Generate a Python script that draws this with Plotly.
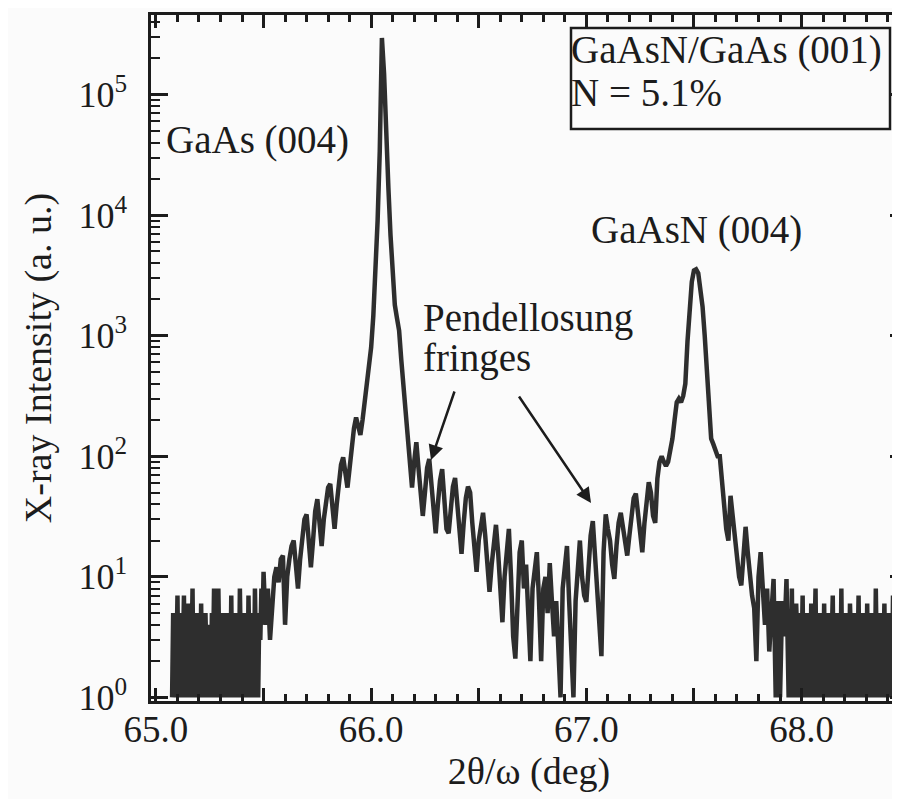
import numpy as np
import plotly.graph_objects as go

# ---------------- data (2theta/omega scan, counts) ----------------
# each segment: start angle (deg), scan step (deg), counts

floor_left_start, floor_left_step = 65.075, 0.005
floor_left_counts = [1, 5, 1, 4, 2, 7, 1, 4, 1, 5,
                     2, 7, 1, 4, 1, 6, 1, 4, 2, 8,
                     1, 4, 1, 5, 2, 4, 1, 6, 1, 4,
                     1, 5, 2, 4, 1, 4, 1, 5, 2, 8,
                     1, 5, 1, 8, 2, 4, 1, 5, 1, 4,
                     1, 5, 2, 4, 1, 7, 1, 4, 2, 5,
                     1, 4, 1, 8, 2, 4, 1, 5, 1, 4,
                     1, 7, 2, 4, 1, 5, 1, 8, 2, 4,
                     1, 5, 3, 8, 4]

gaas_start, gaas_step = 65.50, 0.01
gaas_counts = [11, 4, 8, 3, 6, 10, 12, 9, 14, 15,
               4, 10, 14, 18, 20, 11, 8, 14, 22, 30,
               33, 20, 12, 20, 35, 44, 30, 18, 30, 45,
               55, 59, 40, 25, 40, 65, 85, 98, 70, 55,
               80, 120, 170, 210, 170, 150, 200, 280, 360, 500,
               800, 1450, 3500, 9000, 34000, 295000, 150000, 63000, 17000, 6800,
               3300, 1800, 1400, 1100, 630, 380, 235, 135, 80, 55,
               90, 131, 80, 45, 32, 50, 80, 95, 56, 32,
               23, 40, 63, 78, 45, 25, 23, 35, 56, 66,
               40, 20, 15.5, 28, 45, 56, 50, 28]

fringes_start, fringes_step = 66.48, 0.01
fringes_counts = [16, 11, 20, 28, 34, 22, 12.6, 7.5, 12.6, 20,
                  27, 16, 8, 4.2, 10, 18, 25, 10, 3.2, 2.1,
                  8, 16, 20, 8, 12.6, 4, 2, 8, 12.6, 16,
                  6.3, 2, 8, 10, 5, 13, 6.3, 3.2, 6.3, 2,
                  1, 8, 12.6, 18, 6.3, 2.5, 1, 6.3, 12.6, 20,
                  10, 7, 6.2, 12.6, 22, 29, 16, 8, 4, 2.2,
                  16, 33]

gaasn_start, gaasn_step = 67.10, 0.01
gaasn_counts = [25, 20, 12.6, 9.6, 18, 28, 34, 25, 18, 15,
                22, 35, 45, 49, 32, 20, 16, 28, 45, 61,
                50, 32, 28, 65, 90, 100, 90, 83, 90, 112,
                140, 200, 280, 300, 280, 316, 400, 900, 1800, 2800,
                3470, 3550, 3300, 2500, 1740, 1000, 500, 250, 140, 126,
                112, 100, 100, 56, 40, 25, 20, 47, 32, 20,
                12.6, 10, 8.5, 16, 26, 16, 10, 7, 5.5, 2,
                10, 16, 8, 4, 8, 2.4, 5, 9.6, 1, 6.3,
                1, 6.3, 3.2, 9.6]

floor_right_start, floor_right_step = 67.94, 0.005
floor_right_counts = [1, 5, 2, 8, 1, 4, 1, 6, 3, 5,
                      1, 4, 2, 7, 1, 4, 1, 5, 2, 4,
                      1, 6, 1, 4, 3, 8, 1, 4, 1, 5,
                      2, 4, 1, 6, 1, 4, 2, 5, 1, 4,
                      3, 7, 1, 4, 1, 5, 2, 4, 1, 8,
                      1, 4, 2, 5, 1, 4, 1, 6, 3, 4,
                      1, 5, 1, 4, 2, 7, 1, 4, 1, 5,
                      2, 4, 1, 6, 1, 4, 3, 5, 1, 4,
                      1, 8, 2, 4, 1, 5, 1, 4, 2, 6,
                      1, 4, 1, 5, 3, 4, 1, 7, 1, 4,
                      2, 5, 1, 4, 1, 6, 2, 4, 1, 5, 3]

segments = [(floor_left_start, floor_left_step, floor_left_counts),
            (gaas_start, gaas_step, gaas_counts),
            (fringes_start, fringes_step, fringes_counts),
            (gaasn_start, gaasn_step, gaasn_counts),
            (floor_right_start, floor_right_step, floor_right_counts)]

x_label_vals = [65.0, 66.0, 67.0, 68.0]
x_label_text = ["65.0", "66.0", "67.0", "68.0"]
x_half_vals = [65.5, 66.5, 67.5]
y_decades = [1, 10, 100, 1000, 10000, 100000]
y_decade_text = ["10<sup>0</sup>", "10<sup>1</sup>", "10<sup>2</sup>",
                 "10<sup>3</sup>", "10<sup>4</sup>", "10<sup>5</sup>"]
y_minor_digits = [2, 3, 4, 5, 6, 7, 8, 9]

# ---------------- build ----------------
x = np.concatenate([np.round(s + st * np.arange(len(v)), 4) for s, st, v in segments])
y = np.concatenate([np.asarray(v, dtype=float) for s, st, v in segments])

INK = "#1c1c1c"
FONT = "'Liberation Serif', 'Times New Roman', serif"
BG = "#fbfbfb"
XRANGE = [64.977, 68.49]
YRANGE = [-0.03, 5.66]

y_minor_vals = [m * d for d in y_decades for m in y_minor_digits if m * d < 10 ** YRANGE[1]]

fig = go.Figure(go.Scatter(x=x, y=y, mode="lines",
                           line=dict(color="#2e2e2e", width=4.5),
                           hoverinfo="skip"))
fig.add_trace(go.Scatter(x=[None], y=[None], xaxis="x2", yaxis="y2",
                         showlegend=False, hoverinfo="skip"))

L, R, T, B = 143, 1, 7, 106
W, H = 900, 799
pw, ph = W - L - R, H - T - B


def px(xp):
    return (xp - L) / pw


def py(yp):
    return (H - B - yp) / ph


fig.update_layout(
    width=W, height=H,
    margin=dict(l=L, r=R, t=T, b=B, autoexpand=False),
    paper_bgcolor=BG, plot_bgcolor=BG,
    showlegend=False,
    font=dict(family=FONT, size=36, color=INK),
)

fig.update_layout(
    xaxis=dict(
        range=XRANGE, automargin=False,
        tickvals=x_label_vals, ticktext=x_label_text,
        ticks="inside", ticklen=13, tickwidth=2.5, tickcolor=INK,
        showline=True, linewidth=2.5, linecolor=INK, mirror="ticks",
        showgrid=False, zeroline=False,
        minor=dict(dtick=0.1, tick0=65.0, ticks="inside", ticklen=7,
                   tickwidth=2.5, tickcolor=INK, showgrid=False),
        tickfont=dict(size=37, family=FONT, color=INK),
        ticklabelstandoff=-6,
        title=dict(text="2θ/ω (deg)", font=dict(size=38, family=FONT, color=INK), standoff=2),
    ),
    xaxis2=dict(
        range=XRANGE, overlaying="x", side="bottom", anchor="y2", automargin=False,
        tickvals=x_half_vals, ticks="inside", ticklen=13, tickwidth=2.5, tickcolor=INK,
        showticklabels=False, showline=False, showgrid=False, zeroline=False, mirror="ticks",
    ),
    yaxis=dict(
        type="log", range=YRANGE, automargin=False,
        tickvals=y_decades, ticktext=y_decade_text,
        ticks="inside", ticklen=17, tickwidth=2.5, tickcolor=INK,
        showline=True, linewidth=2.5, linecolor=INK, mirror="ticks",
        showgrid=False, zeroline=False,
        tickfont=dict(size=36, family=FONT, color=INK),
        ticklabelstandoff=14,
        title=dict(text="X-ray Intensity (a. u.)", font=dict(size=38, family=FONT, color=INK), standoff=16),
    ),
    yaxis2=dict(
        type="log", range=YRANGE, overlaying="y", side="left", anchor="x2", automargin=False,
        tickvals=y_minor_vals, ticks="inside", ticklen=9, tickwidth=2.2, tickcolor=INK,
        showticklabels=False, showline=False, showgrid=False, zeroline=False, mirror="ticks",
    ),
)

TXT = dict(size=39, family=FONT, color=INK)


def label(text, xp, yp):
    fig.add_annotation(text=text, x=px(xp), y=py(yp), xref="paper", yref="paper",
                       xanchor="left", yanchor="middle", showarrow=False, font=TXT,
                       borderpad=0)


label("GaAs (004)", 157, 132)
label("GaAsN (004)", 582, 222)
label("Pendellosung", 414, 310)
label("fringes", 414, 350)
label("GaAsN/GaAs (001)", 562, 42)
label("N = 5.1%", 562, 84)

fig.add_shape(type="rect", xref="paper", yref="paper",
              x0=px(563), x1=px(882), y0=py(121), y1=py(20),
              line=dict(color=INK, width=2.5), fillcolor="rgba(0,0,0,0)")

for head, tail in [((423, 452), (447, 382)), ((583, 495), (510, 387))]:
    fig.add_annotation(text="", x=px(head[0]), y=py(head[1]), xref="paper", yref="paper",
                       ax=tail[0] - head[0], ay=tail[1] - head[1],
                       showarrow=True, arrowhead=2, arrowsize=1.2, arrowwidth=2.5,
                       arrowcolor=INK, standoff=0)

fig.write_html("out.html")
